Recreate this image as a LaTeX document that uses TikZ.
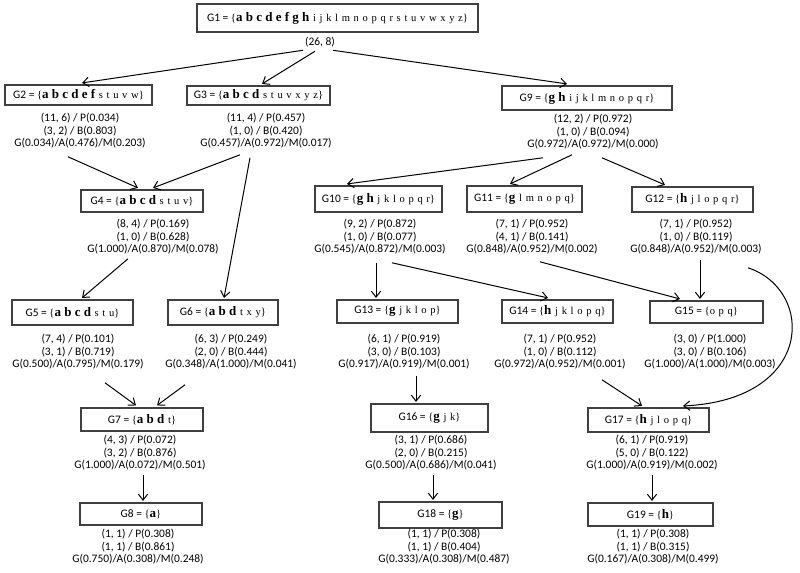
\documentclass[tikz,border=0pt]{standalone}
\usepackage{fontspec}
\setmainfont{Carlito}
\newfontfamily\tnr{Liberation Serif}
\usepackage{tikz}
\usetikzlibrary{arrows.meta}

\newcommand{\bl}[1]{{\tnr\fontsize{9.75}{11}\selectfont\bfseries #1}}
\newcommand{\sm}[1]{{\tnr\fontsize{7.9}{9}\selectfont\spaceskip=0.35em plus 0.1em minus 0.05em\relax #1}}

\begin{document}
\begin{tikzpicture}[x=0.75pt,y=-0.75pt]
  \tikzset{gbox/.style={draw=black!75, line width=0.85pt, inner sep=0pt, font=\fontsize{8.6}{10}\selectfont},
    bw/.style={minimum width=#1*0.75pt},
    bh/.style={minimum height=#1*0.75pt},
    stats/.style={inner sep=0pt, align=center, font=\fontsize{8.6}{9.4}\selectfont},
    link/.style={-{Straight Barb[length=4.5pt,width=7pt]}, line width=0.75pt}}
  \useasboundingbox (0,0) rectangle (800,572);

  % level 1 and 2
  \node[gbox,bw=281,bh=28] (g1) at (337.5,18) {G1 = \sm{\{}\bl{a b c d e f g h}\sm{ i j k l m n o p q r s t u v w x y z\}}};
  \node[stats] (s1) at (320,42) {(26, 8)};
  \node[gbox,bw=147,bh=20] (g2) at (78.5,95) {G2 = \sm{\{}\bl{a b c d e f}\sm{ s t u v w\}}};
  \node[stats] (s2) at (80,131) {(11, 6) / P(0.034)\\(3, 2) / B(0.803)\\G(0.034)/A(0.476)/M(0.203)};
  \node[gbox,bw=143,bh=19] (g3) at (258.5,95.5) {G3 = \sm{\{}\bl{a b c d}\sm{ s t u v x y z\}}};
  \node[stats] (s3) at (266,131) {(11, 4) / P(0.457)\\(1, 0) / B(0.420)\\G(0.457)/A(0.972)/M(0.017)};
  \node[gbox,bw=170,bh=24] (g9) at (587,98) {G9 = \sm{\{}\bl{g h}\sm{ i j k l m n o p q r\}}};
  \node[stats] (s9) at (593,132) {(12, 2) / P(0.972)\\(1, 0) / B(0.094)\\G(0.972)/A(0.972)/M(0.000)};

  % level 3
  \node[gbox,bw=122,bh=22] (g4) at (142,201) {G4 = \sm{\{}\bl{a b c d}\sm{ s t u v\}}};
  \node[stats] (s4) at (153,237) {(8, 4) / P(0.169)\\(1, 0) / B(0.628)\\G(1.000)/A(0.870)/M(0.078)};
  \node[gbox,bw=127,bh=26] (g10) at (378.5,199) {G10 = \sm{\{}\bl{g h}\sm{ j k l o p q r\}}};
  \node[stats] (s10) at (380,237) {(9, 2) / P(0.872)\\(1, 0) / B(0.077)\\G(0.545)/A(0.872)/M(0.003)};
  \node[gbox,bw=115,bh=26] (g11) at (524.5,199) {G11 = \sm{\{}\bl{g}\sm{ l m n o p q\}}};
  \node[stats] (s11) at (532,237) {(7, 1) / P(0.952)\\(4, 1) / B(0.141)\\G(0.848)/A(0.952)/M(0.002)};
  \node[gbox,bw=121,bh=25] (g12) at (692.5,199.5) {G12 = \sm{\{}\bl{h}\sm{ j l o p q r\}}};
  \node[stats] (s12) at (696,237) {(7, 1) / P(0.952)\\(1, 0) / B(0.119)\\G(0.848)/A(0.952)/M(0.003)};

  % level 4
  \node[gbox,bw=121,bh=25] (g5) at (72.5,312.5) {G5 = \sm{\{}\bl{a b c d}\sm{ s t u\}}};
  \node[stats] (s5) at (78,352) {(7, 4) / P(0.101)\\(3, 1) / B(0.719)\\G(0.500)/A(0.795)/M(0.179)};
  \node[gbox,bw=110,bh=25] (g6) at (223,312.5) {G6 = \sm{\{}\bl{a b d}\sm{ t x y\}}};
  \node[stats] (s6) at (231,352) {(6, 3) / P(0.249)\\(2, 0) / B(0.444)\\G(0.348)/A(1.000)/M(0.041)};
  \node[gbox,bw=121,bh=23] (g13) at (397.5,311.5) {G13 = \sm{\{}\bl{g}\sm{ j k l o p\}}};
  \node[stats] (s13) at (404,352) {(6, 1) / P(0.919)\\(3, 0) / B(0.103)\\G(0.917)/A(0.919)/M(0.001)};
  \node[gbox,bw=111,bh=23] (g14) at (557.5,311.5) {G14 = \sm{\{}\bl{h}\sm{ j k l o p q\}}};
  \node[stats] (s14) at (560,352) {(7, 1) / P(0.952)\\(1, 0) / B(0.112)\\G(0.972)/A(0.952)/M(0.001)};
  \node[gbox,bw=113,bh=22] (g15) at (706.5,312) {G15 = \sm{\{o p q\}}};
  \node[stats] (s15) at (710,352) {(3, 0) / P(1.000)\\(3, 0) / B(0.106)\\G(1.000)/A(1.000)/M(0.003)};

  % level 5 and 6
  \node[gbox,bw=122,bh=23] (g7) at (142,419.5) {G7 = \sm{\{}\bl{a b d}\sm{ t\}}};
  \node[stats] (s7) at (140,453) {(4, 3) / P(0.072)\\(3, 2) / B(0.876)\\G(1.000)/A(0.072)/M(0.501)};
  \node[gbox,bw=117,bh=28] (g16) at (429.5,418) {G16 = \sm{\{}\bl{g}\sm{ j k\}}};
  \node[stats] (s16) at (431,453) {(3, 1) / P(0.686)\\(2, 0) / B(0.215)\\G(0.500)/A(0.686)/M(0.041)};
  \node[gbox,bw=121,bh=24] (g17) at (648.5,420) {G17 = \sm{\{}\bl{h}\sm{ j l o p q\}}};
  \node[stats] (s17) at (652,453) {(6, 1) / P(0.919)\\(5, 0) / B(0.122)\\G(1.000)/A(0.919)/M(0.002)};
  \node[gbox,bw=122,bh=22] (g8) at (141,514) {G8 = \sm{\{}\bl{a}\sm{\}}};
  \node[stats] (s8) at (138,547) {(1, 1) / P(0.308)\\(1, 1) / B(0.861)\\G(0.750)/A(0.308)/M(0.248)};
  \node[gbox,bw=123,bh=26] (g18) at (440.5,515) {G18 = \sm{\{}\bl{g}\sm{\}}};
  \node[stats] (s18) at (444,547) {(1, 1) / P(0.308)\\(1, 1) / B(0.404)\\G(0.333)/A(0.308)/M(0.487)};
  \node[gbox,bw=125,bh=23] (g19) at (650.5,514.5) {G19 = \sm{\{}\bl{h}\sm{\}}};
  \node[stats] (s19) at (653,547) {(1, 1) / P(0.308)\\(1, 1) / B(0.315)\\G(0.167)/A(0.308)/M(0.499)};

  % arrows
  \draw[link] ([shift={(-17,3)}]s1.south) -- ([shift={(3.5,-1.5)}]g2.north);
  \draw[link] ([shift={(-5,4)}]s1.south) -- ([shift={(3.5,-1.5)}]g3.north);
  \draw[link] ([shift={(13,3)}]s1.south) -- ([shift={(-20,-1.5)}]g9.north);
  \draw[link] ([shift={(-12,8)}]s2.south) -- ([shift={(-4,-1.5)}]g4.north);
  \draw[link] ([shift={(-26,6)}]s3.south) -- ([shift={(11,-1.5)}]g4.north);
  \draw[link] ([shift={(-16,9)}]s3.south) -- ([shift={(1,-1.5)}]g6.north);
  \draw[link] ([shift={(-50,8)}]s9.south) -- ([shift={(-31.5,-1.5)}]g10.north);
  \draw[link] ([shift={(-21,5)}]s9.south) -- ([shift={(-14.5,-1.5)}]g11.north);
  \draw[link] ([shift={(9,8)}]s9.south) -- ([shift={(-27.5,-1.5)}]g12.north);
  \draw[link] ([shift={(-25,4)}]s4.south) -- ([shift={(9.5,-1.5)}]g5.north);
  \draw[link] ([shift={(-4,8)}]s10.south) -- ([shift={(-21.5,-1.5)}]g13.north);
  \draw[link] ([shift={(12,8)}]s10.south) -- ([shift={(-9.5,-1.5)}]g14.north);
  \draw[link] ([shift={(8,7)}]s11.south) -- ([shift={(-26.5,-1.5)}]g15.north);
  \draw[link] ([shift={(4,5)}]s12.south) -- ([shift={(-6.5,-1.5)}]g15.north);
  \draw[link] ([shift={(52,13)}]s12.south) .. controls +(67,22) and +(132,-6) .. ([shift={(34.5,-1.5)}]g17.north);
  \draw[link] ([shift={(12,6)}]s13.south) -- ([shift={(-13.5,-1.5)}]g16.north);
  \draw[link] ([shift={(42,10)}]s14.south) -- ([shift={(-6.5,-1.5)}]g17.north);
  \draw[link] ([shift={(27,13)}]s5.south) -- ([shift={(-6,-2)}]g7.north);
  \draw[link] ([shift={(-46,15)}]s6.south) -- ([shift={(15,-2)}]g7.north);
  \draw[link] ([shift={(3,4)}]s7.south) -- ([shift={(2,-1.5)}]g8.north);
  \draw[link] ([shift={(2,4)}]s16.south) -- ([shift={(-7.5,-1.5)}]g18.north);
  \draw[link] ([shift={(0,4)}]s17.south) -- ([shift={(1.5,-1.5)}]g19.north);
\end{tikzpicture}
\end{document}
